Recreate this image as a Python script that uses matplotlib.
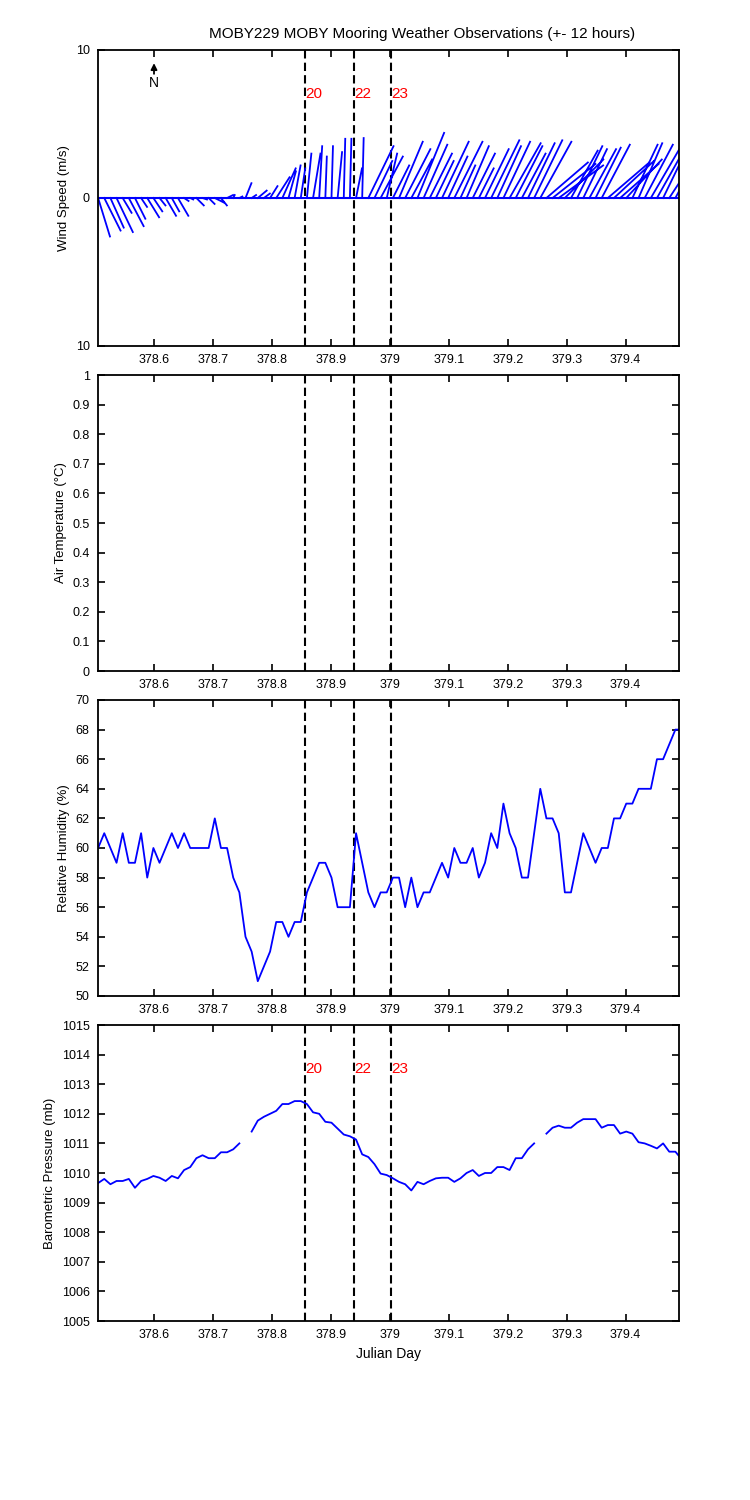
import numpy as np
import matplotlib
matplotlib.use('Agg')
import matplotlib.pyplot as plt
from matplotlib.ticker import FuncFormatter

plt.rcParams['font.family'] = ['Liberation Sans', 'DejaVu Sans']

# 15 minute samples, Julian day
t_start = 378.5052
t_step = 15.0 / 1440.0
n_obs = 96
jday = t_start + t_step * np.arange(n_obs)

# wind components (m/s)
wind_u = [0.8, 1.1, 0.9, 1.1, 0.6, 1.0, 0.7, 0.4, 0.8, 0.6,
          0.4, 0.7, 0.5, 0.7, 0.3, 0.2, 0.5, 0.3, 0.4, 0.6,
          0.4, 0.4, 0.1, 0.2, 0.4, 0.3, 0.6, 0.4, 0.5, 0.9,
          0.9, 0.5, 0.4, 0.3, 0.3, 0.5, 0.2, 0.1, 0.1, 0.3,
          0.1, 0.1, 0.4, 0.1, 1.7, 1.2, 1.5, 0.7, 1.1, 1.6,
          1.7, 1.4, 1.8, 1.6, 1.5, 1.2, 1.8, 1.3, 1.9, 1.0,
          1.5, 1.5, 1.0, 1.6, 1.9, 1.6, 1.8, 2.1, 1.8, 1.6,
          1.8, 1.9, 2.1, 2.8, 2.9, 3.0, 2.6, 1.8, 1.7, 1.6,
          1.8, 1.7, 1.9, 2.8, 2.7, 2.6, 2.4, 1.7, 1.6, 1.9,
          2.1, 1.8, 1.8, 2.1, 1.5, 1.7]
wind_v = [-2.6, -2.2, -2.0, -2.3, -1.0, -1.9, -1.4, -0.6, -1.3, -0.9,
          -0.5, -1.2, -0.9, -1.2, -0.2, -0.1, -0.5, -0.1, -0.4, -0.3,
          -0.5, 0.2, 0.2, 0.1, 1.0, 0.2, 0.5, 0.3, 0.8, 1.4,
          2.0, 1.8, 2.2, 2.0, 3.0, 3.0, 3.5, 2.8, 3.5, 3.1,
          4.0, 4.0, 2.0, 4.05, 3.5, 2.5, 2.8, 3.0, 2.2, 3.8,
          3.3, 2.6, 4.4, 3.6, 3.0, 2.5, 3.8, 2.8, 3.8, 2.2,
          3.5, 3.0, 2.0, 3.3, 3.9, 3.5, 3.8, 3.7, 3.5, 3.0,
          3.7, 3.9, 3.8, 2.4, 2.3, 2.2, 2.6, 3.2, 3.5, 3.3,
          3.3, 3.4, 3.6, 2.4, 2.5, 2.3, 2.6, 3.6, 3.7, 3.6,
          3.6, 3.2, 3.7, 3.2, 2.8, 3.0]

humidity = [60, 61, 60, 59, 61, 59, 59, 61, 58, 60,
            59, 60, 61, 60, 61, 60, 60, 60, 60, 62,
            60, 60, 58, 57, 54, 53, 51, 52, 53, 55,
            55, 54, 55, 55, 57, 58, 59, 59, 58, 56,
            56, 56, 61, 59, 57, 56, 57, 57, 58, 58,
            56, 58, 56, 57, 57, 58, 59, 58, 60, 59,
            59, 60, 58, 59, 61, 60, 63, 61, 60, 58,
            58, 61, 64, 62, 62, 61, 57, 57, 59, 61,
            60, 59, 60, 60, 62, 62, 63, 63, 64, 64,
            64, 66, 66, 67, 68, 68]

pressure = [1009.66, 1009.80, 1009.62, 1009.73, 1009.73, 1009.80, 1009.50, 1009.73, 1009.80, 1009.90,
            1009.84, 1009.73, 1009.90, 1009.82, 1010.10, 1010.20, 1010.50, 1010.60, 1010.50, 1010.50,
            1010.70, 1010.70, 1010.80, 1011.00, np.nan, 1011.40, 1011.77, 1011.90, 1012.00, 1012.10,
            1012.33, 1012.33, 1012.43, 1012.43, 1012.33, 1012.05, 1012.00, 1011.73, 1011.70, 1011.50,
            1011.30, 1011.24, 1011.13, 1010.63, 1010.54, 1010.30, 1009.98, 1009.93, 1009.82, 1009.70,
            1009.62, 1009.41, 1009.70, 1009.62, 1009.73, 1009.82, 1009.84, 1009.84, 1009.70, 1009.82,
            1010.00, 1010.10, 1009.90, 1010.00, 1010.00, 1010.20, 1010.20, 1010.10, 1010.50, 1010.50,
            1010.80, 1011.00, np.nan, 1011.33, 1011.53, 1011.60, 1011.53, 1011.53, 1011.70, 1011.82,
            1011.82, 1011.82, 1011.53, 1011.62, 1011.62, 1011.33, 1011.40, 1011.33, 1011.04, 1011.00,
            1010.92, 1010.83, 1011.00, 1010.72, 1010.72, 1010.47]

# overpass markers
event_days = [378.856, 378.939, 379.002]
event_labels = ['20', '22', '23']

xlim = (378.505, 379.4905)
xticks = [378.6, 378.7, 378.8, 378.9, 379.0, 379.1, 379.2, 379.3, 379.4]

fig = plt.figure(figsize=(7.5, 15), dpi=100)
left, width, height = 98/750., 581/750., 296/1500.
bottoms = [1-346/1500., 1-671/1500., 1-996/1500., 1-1321/1500.]
axs = [fig.add_axes([left, b, width, height]) for b in bottoms]

fs = 9
for ax in axs:
    ax.set_xlim(*xlim)
    ax.set_xticks(xticks)
    ax.xaxis.set_major_formatter(FuncFormatter(lambda v, p: '%g' % round(v, 1)))
    ax.tick_params(direction='in', top=True, right=True, length=5, width=1.2, labelsize=fs, pad=6)
    for s in ax.spines.values():
        s.set_linewidth(1.3)
    for d in event_days:
        ax.axvline(d, color='k', ls=(0, (4, 2)), lw=1.5)

# wind sticks
ax = axs[0]
ax.set_ylim(-10, 10)
ax.set_yticks([-10, 0, 10])
ax.yaxis.set_major_formatter(FuncFormatter(lambda v, p: '%d' % abs(v)))
# scale u so sticks keep their true direction on screen
uscale = (xlim[1]-xlim[0]) / width / 7.5 / (20. / height / 15)
sx, sy = [], []
for tt, u, v in zip(jday, wind_u, wind_v):
    sx += [tt, tt + u*uscale, np.nan]
    sy += [0, v, np.nan]
ax.plot(sx, sy, color='b', lw=1.3)
ax.plot(xlim, [0, 0], color='b', lw=1.5)
ax.annotate('', xy=(378.6, 9.3), xytext=(378.6, 8.2),
            arrowprops=dict(arrowstyle='-|>', color='k', lw=1.3, mutation_scale=9))
ax.text(378.6, 7.75, 'N', ha='center', va='center', fontsize=10)
for d, lab in zip(event_days, event_labels):
    ax.text(d+0.0012, 7.0, lab, color='r', fontsize=11, va='center', ha='left')
ax.set_ylabel('Wind Speed (m/s)', fontsize=fs+0.5, labelpad=4)
ax.set_xlabel('Julian Day', fontsize=fs+1, labelpad=10)

# air temperature (no data)
ax = axs[1]
ax.set_ylim(0, 1)
ax.set_yticks(np.arange(0, 1.01, 0.1))
ax.yaxis.set_major_formatter(FuncFormatter(lambda v, p: '%g' % round(v, 1)))
ax.set_ylabel('Air Temperature (\u00b0C)', fontsize=fs+0.5, labelpad=4)

# humidity
ax = axs[2]
ax.plot(jday, humidity, color='b', lw=1.3)
ax.set_ylim(50, 70)
ax.set_yticks(range(50, 71, 2))
ax.set_ylabel('Relative Humidity (%)', fontsize=fs+0.5, labelpad=4)

# pressure
ax = axs[3]
ax.plot(jday, pressure, color='b', lw=1.3)
ax.set_ylim(1005, 1015)
ax.set_yticks(range(1005, 1016))
ax.set_ylabel('Barometric Pressure (mb)', fontsize=fs+0.5, labelpad=4)
for d, lab in zip(event_days, event_labels):
    ax.text(d+0.0012, 1013.5, lab, color='r', fontsize=11, va='center', ha='left')
ax.set_xlabel('Julian Day', fontsize=fs+1)

fig.text(422/750., 1-34/1500., 'MOBY229 MOBY Mooring Weather Observations (+- 12 hours)',
         ha='center', va='center', fontsize=11)

fig.savefig('out.png', dpi=100)
